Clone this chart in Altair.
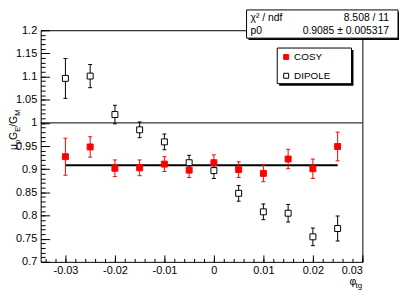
import altair as alt
import pandas as pd

# ---------------- data ----------------
phi_tg = [-0.03, -0.025, -0.02, -0.015, -0.01, -0.005, 0.0, 0.005, 0.01, 0.015, 0.02, 0.025]
cosy_ratio = [0.927, 0.948, 0.902, 0.903, 0.911, 0.898, 0.914, 0.899, 0.891, 0.922, 0.901, 0.949]
cosy_err = [0.040, 0.022, 0.018, 0.017, 0.016, 0.016, 0.017, 0.017, 0.018, 0.021, 0.021, 0.031]
dipole_ratio = [1.096, 1.101, 1.018, 0.985, 0.959, 0.914, 0.897, 0.848, 0.808, 0.805, 0.754, 0.772]
dipole_err = [0.043, 0.025, 0.020, 0.017, 0.017, 0.016, 0.017, 0.017, 0.017, 0.019, 0.019, 0.027]
series_names = ["COSY", "DIPOLE"]
fit_p0 = [0.9085]
fit_range = [-0.03, 0.025]
ref_level = [1.0]
stats_rows = [["\u03c7\u00b2 / ndf", "8.508 / 11"], ["p0", "0.9085 \u00b1 0.005317"]]

x_major = [-0.03, -0.02, -0.01, 0, 0.01, 0.02, 0.03]
x_minor = [round(-0.034 + 0.002 * i, 3) for i in range(33)]
y_major = [0.7, 0.75, 0.8, 0.85, 0.9, 0.95, 1, 1.05, 1.1, 1.15, 1.2]
y_minor = [round(0.7 + 0.01 * i, 2) for i in range(51)]

# ---------------- styling ----------------
FONT = "Liberation Sans"
W, H = 325, 234
RED, BLACK, WHITE = "#ff0000", "#000000", "#ffffff"
xs = alt.Scale(domain=[-0.035, 0.03], nice=False, zero=False)
ys = alt.Scale(domain=[0.7, 1.2], nice=False, zero=False)
col_scale = alt.Scale(domain=series_names, range=[RED, BLACK])
fill_scale = alt.Scale(domain=series_names, range=[RED, WHITE])

n = len(phi_tg)
df = pd.DataFrame({
    "phi": phi_tg * 2,
    "ratio": cosy_ratio + dipole_ratio,
    "err": cosy_err + dipole_err,
    "series": [series_names[0]] * n + [series_names[1]] * n,
})
df["lo"] = df["ratio"] - df["err"]
df["hi"] = df["ratio"] + df["err"]

one = alt.Data(values=[{}])

ax_y_labels = alt.Axis(orient="left", values=y_major, ticks=False, domain=False, grid=False,
                       labelExpr="'' + datum.value", labelPadding=4, title=None)
ax_y_major = alt.Axis(orient="right", offset=-W, values=y_major, tickSize=9, labels=False,
                      domain=False, grid=False, title=None)
ax_y_minor = alt.Axis(orient="right", offset=-W, values=y_minor, tickSize=4.5, labels=False,
                      domain=False, grid=False, title=None)
ax_x_labels = alt.Axis(orient="bottom", values=x_major, ticks=False, domain=False, grid=False,
                       labelExpr="'' + datum.value", labelPadding=3, title=None)
ax_x_major = alt.Axis(orient="top", offset=-H, values=x_major, tickSize=7, labels=False,
                      domain=False, grid=False, title=None)
ax_x_minor = alt.Axis(orient="top", offset=-H, values=x_minor, tickSize=3.5, labels=False,
                      domain=False, grid=False, title=None)

ref_df = pd.DataFrame({"level": ref_level})
ref_line = alt.Chart(ref_df).mark_rule(color="black", strokeWidth=1).encode(
    y=alt.Y("level:Q", scale=ys, axis=ax_y_labels))

fit_df = pd.DataFrame({"x1": [fit_range[0]], "x2": [fit_range[1]], "p0": fit_p0})
fit_line = alt.Chart(fit_df).mark_rule(color="black", strokeWidth=2).encode(
    x=alt.X("x1:Q", scale=xs, axis=ax_x_labels), x2="x2:Q",
    y=alt.Y("p0:Q", scale=ys, axis=ax_y_major))

errbars = alt.Chart(df).mark_rule(strokeWidth=1).encode(
    x=alt.X("phi:Q", scale=xs, axis=ax_x_major),
    y=alt.Y("lo:Q", scale=ys, axis=ax_y_minor), y2="hi:Q",
    color=alt.Color("series:N", scale=col_scale, legend=None))

cap_lo = alt.Chart(df).mark_tick(orient="horizontal", size=4, thickness=1, opacity=1).encode(
    x=alt.X("phi:Q", scale=xs, axis=ax_x_minor),
    y=alt.Y("lo:Q", scale=ys, axis=None),
    color=alt.Color("series:N", scale=col_scale, legend=None))
cap_hi = alt.Chart(df).mark_tick(orient="horizontal", size=4, thickness=1, opacity=1).encode(
    x=alt.X("phi:Q", scale=xs, axis=None),
    y=alt.Y("hi:Q", scale=ys, axis=None),
    color=alt.Color("series:N", scale=col_scale, legend=None))

points = alt.Chart(df).mark_square(size=36, strokeWidth=1, opacity=1).encode(
    x=alt.X("phi:Q", scale=xs, axis=None),
    y=alt.Y("ratio:Q", scale=ys, axis=None),
    fill=alt.Fill("series:N", scale=fill_scale, legend=None),
    stroke=alt.Stroke("series:N", scale=col_scale, legend=None))


def box(x1, y1, x2, y2, shadow=True):
    layers = []
    if shadow:
        layers.append(alt.Chart(one).mark_rect(color="black").encode(
            x=alt.value(x1 + 2), x2=alt.value(x2 + 2), y=alt.value(y1 + 2), y2=alt.value(y2 + 2)))
    layers.append(alt.Chart(one).mark_rect(fill="white", stroke="black", strokeWidth=1).encode(
        x=alt.value(x1), x2=alt.value(x2), y=alt.value(y1), y2=alt.value(y2)))
    return layers


def label(txt, x, y, size=11, angle=0, align="left"):
    return alt.Chart(one).mark_text(text=txt, fontSize=size, angle=angle, align=align,
                                    baseline="alphabetic", font=FONT, color="black").encode(
        x=alt.value(x), y=alt.value(y))


def swatch(x, y, fill, stroke):
    return alt.Chart(one).mark_square(size=25, fill=fill, stroke=stroke, strokeWidth=1,
                                      opacity=1).encode(x=alt.value(x), y=alt.value(y))


# legend (box + entries)
legend_layers = box(239, 18, 314, 54) + [
    swatch(248, 27, RED, RED), label(series_names[0], 256, 30.5, 10),
    swatch(248, 46, WHITE, BLACK), label(series_names[1], 256, 49.5, 10),
]

# fit statistics box
stats_layers = box(208, -20.5, 361, 8) + [
    label(stats_rows[0][0], 212, -9, 10.5), label(stats_rows[0][1], 352, -9, 10.5, align="right"),
    label(stats_rows[1][0], 212, 4, 10.5), label(stats_rows[1][1], 352, 4, 10.5, align="right"),
]

# y title: mu_p G_E / G_M (rotated, reading upward)
yb, ysub = -23.5, -21
ytitle = [
    label("\u03bc", yb, 121, 10.5, 270), label("p", ysub, 115, 7.5, 270),
    label("G", yb, 110.8, 10.5, 270), label("E", ysub, 102.6, 7.5, 270),
    label("/", yb, 97.6, 10.5, 270), label("G", yb, 94.7, 10.5, 270),
    label("M", ysub, 86.5, 7.5, 270),
]
# x title: phi_tg
xtitle = [label("\u03c6", 312, 257, 10.5), label("tg", 318, 260.5, 8)]

chart = alt.layer(
    ref_line, fit_line, errbars, cap_lo, cap_hi, points,
    *legend_layers, *stats_layers, *ytitle, *xtitle,
).resolve_axis(x="independent", y="independent").properties(
    width=W, height=H,
    autosize=alt.AutoSizeParams(type="none"),
    padding={"left": 33, "top": 21, "right": 37, "bottom": 29},
).configure_view(stroke="black", strokeWidth=1).configure_axis(
    labelFont=FONT, labelFontSize=11, labelColor="black", tickColor="black", tickWidth=1,
)

chart.save("out.html", embed_options={"renderer": "svg", "actions": False})
